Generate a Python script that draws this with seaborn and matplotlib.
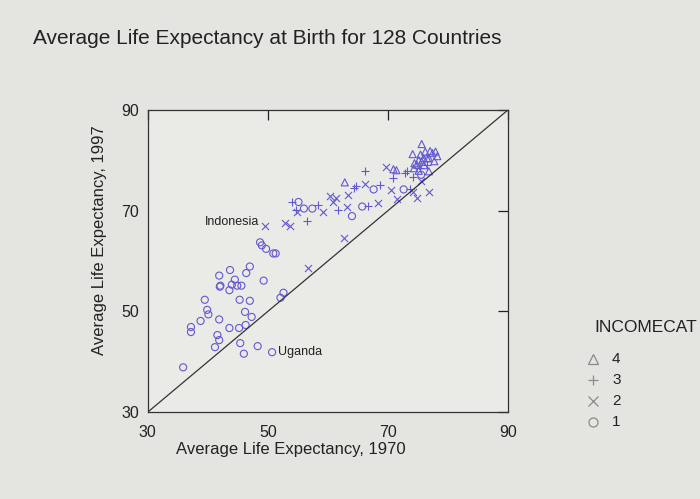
import matplotlib
matplotlib.use("Agg")
import matplotlib.pyplot as plt
from matplotlib.lines import Line2D
import seaborn as sns
import pandas as pd

# life expectancy, one pair of lists per income category
le1970_inc1 = [35.9, 37.2, 37.2, 38.8, 39.5, 39.9, 40.1, 41.2, 41.6, 41.9, 41.9, 41.9, 42.0, 42.1,
               43.6, 43.6, 43.7, 44.0, 44.5, 44.9, 45.6, 45.2, 45.3, 45.4, 46.0, 46.2, 46.3, 46.4,
               47.0, 47.0, 47.3, 48.3, 48.7, 49.0, 49.3, 49.7, 50.9, 51.3, 50.7, 52.1, 52.6, 55.1,
               56.0, 57.4, 64.0, 65.7, 67.6, 72.6, 75.5]
le1997_inc1 = [38.9, 46.9, 45.9, 48.1, 52.3, 50.3, 49.4, 42.9, 45.3, 44.3, 48.4, 57.1, 54.9, 55.1,
               54.2, 46.7, 58.2, 55.3, 56.3, 55.1, 55.1, 46.7, 52.3, 43.7, 41.6, 49.9, 47.3, 57.6,
               58.9, 52.1, 48.9, 43.1, 63.7, 63.1, 56.1, 62.4, 61.5, 61.5, 41.9, 52.7, 53.7, 71.7,
               70.4, 70.4, 68.9, 70.8, 74.2, 74.2, 77.1]

le1970_inc2 = [49.5, 56.6, 62.6, 52.8, 53.7, 54.8, 59.2, 60.3, 60.8, 63.2, 63.3, 66.2, 68.3, 70.5,
               71.5, 69.7, 74.2, 74.8, 76.8, 75.5, 61.3]
le1997_inc2 = [66.9, 58.7, 64.5, 67.5, 66.9, 69.7, 69.8, 72.8, 71.8, 70.8, 73.0, 75.2, 71.6, 74.0,
               72.2, 78.6, 73.7, 72.4, 73.7, 75.9, 72.4]

le1970_inc3 = [54.0, 54.7, 56.5, 61.6, 64.4, 64.6, 66.2, 68.6, 66.6, 70.9, 72.8, 73.6, 74.2, 58.3,
               75.4, 76.5, 73.2]
le1997_inc3 = [71.7, 70.1, 68.0, 70.2, 74.4, 74.8, 77.8, 75.0, 71.0, 76.4, 77.4, 74.2, 76.7, 71.1,
               78.4, 79.1, 77.9]

le1970_inc4 = [62.8, 70.9, 71.4, 75.6, 74.1, 77.0, 78.2, 76.5, 75.1, 74.4, 76.0, 77.7, 76.8, 74.3,
               75.4, 76.2, 77.4, 74.8, 75.6, 75.9, 77.9, 76.8, 75.1]
le1997_inc4 = [75.6, 78.2, 78.0, 83.2, 81.2, 81.8, 80.8, 80.4, 80.0, 79.4, 79.0, 79.8, 77.8, 78.4,
               81.1, 81.7, 81.4, 79.1, 79.7, 80.4, 81.7, 80.4, 77.9]

income_cats = ["4", "3", "2", "1"]
cat_markers = {"4": "^", "3": "+", "2": "x", "1": "o"}

ticks = [30, 50, 70, 90]
labelled = {"Indonesia": (49.5, 66.9), "Uganda": (50.7, 41.9)}

frames = []
for cat, xs, ys in [("1", le1970_inc1, le1997_inc1), ("2", le1970_inc2, le1997_inc2),
                    ("3", le1970_inc3, le1997_inc3), ("4", le1970_inc4, le1997_inc4)]:
    frames.append(pd.DataFrame({"LIFE1970": xs, "LIFE1997": ys, "INCOMECAT": cat}))
df = pd.concat(frames, ignore_index=True)

sns.set_style("white")
plt.rcParams["font.family"] = ["Liberation Sans", "DejaVu Sans"]

bg = "#e4e4e1"
point_col = "#6258d2"
text_col = "#222222"

fig = plt.figure(figsize=(7, 4.99), dpi=100, facecolor=bg)
ax = fig.add_axes([0.211, 0.174, 0.515, 0.606])
ax.set_facecolor("#eaeae6")

for cat in ["1", "2", "3", "4"]:
    sub = df[df["INCOMECAT"] == cat]
    m = cat_markers[cat]
    if m in ("o", "^"):
        sns.scatterplot(data=sub, x="LIFE1970", y="LIFE1997", marker=m, s=26,
                        facecolor="none", edgecolor=point_col, linewidth=0.8, ax=ax)
    else:
        sns.scatterplot(data=sub, x="LIFE1970", y="LIFE1997", marker=m, s=26,
                        color=point_col, linewidth=0.8, ax=ax)

ax.axline((30, 30), slope=1, color="#333333", linewidth=0.9)

ax.set_xlim(30, 90)
ax.set_ylim(30, 90)
ax.set_xticks(ticks)
ax.set_yticks(ticks)
ax.tick_params(direction="in", length=7, width=0.9, top=True, right=True,
               labelsize=11.5, colors=text_col, pad=6)
ax.tick_params(axis="x", pad=9)
for sp in ax.spines.values():
    sp.set_color("#333333")
    sp.set_linewidth(0.9)

ax.set_xlabel("Average Life Expectancy, 1970", fontsize=12, color=text_col)
ax.set_ylabel("Average Life Expectancy, 1997", fontsize=12, color=text_col)
ax.xaxis.set_label_coords(0.396, -0.099)
ax.yaxis.set_label_coords(-0.114, 0.57)

xv, yv = labelled["Indonesia"]
ax.annotate("Indonesia", (xv, yv), xytext=(-4, 3), textcoords="offset points",
            ha="right", va="center", fontsize=9, color=text_col)
xv, yv = labelled["Uganda"]
ax.annotate("Uganda", (xv, yv), xytext=(4, 0), textcoords="offset points",
            ha="left", va="center", fontsize=9, color=text_col)

fig.text(0.047, 0.922, "Average Life Expectancy at Birth for 128 Countries",
         fontsize=15, color=text_col, va="center")

# legend drawn by hand so the rows sit like the original
fig.text(594 / 700, 1 - 328 / 499, "INCOMECAT", fontsize=12.5, color=text_col,
         ha="left", va="center")
row_y = [359, 380, 401, 422]
for cat, py in zip(income_cats, row_y):
    fy = 1 - py / 499
    fig.add_artist(Line2D([593 / 700], [fy], transform=fig.transFigure, linestyle="none",
                          marker=cat_markers[cat], markersize=6.5, markerfacecolor="none",
                          markeredgecolor="#8a8a8a", markeredgewidth=0.9))
    fig.text(612 / 700, fy, cat, fontsize=11, color=text_col, ha="left", va="center")

fig.savefig("out.png", dpi=100, facecolor=bg)
